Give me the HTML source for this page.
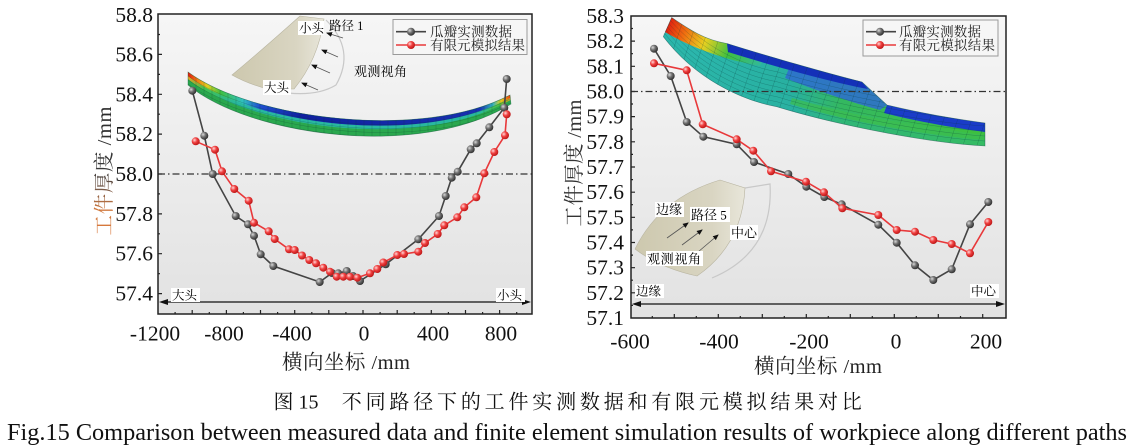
<!DOCTYPE html>
<html><head><meta charset="utf-8"><style>
html,body{margin:0;padding:0;background:#fff;width:1134px;height:447px;overflow:hidden}
svg{display:block}
text{font-family:"Liberation Serif","Noto Serif CJK SC",serif}
</style></head><body>
<svg width="1134" height="447" viewBox="0 0 1134 447" xmlns="http://www.w3.org/2000/svg">
<defs>
<linearGradient id="bg" x1="0" y1="0" x2="0" y2="1"><stop offset="0" stop-color="#f6f6f6"/><stop offset="0.5" stop-color="#ececec"/><stop offset="1" stop-color="#e2e2e2"/></linearGradient>
<radialGradient id="gb" cx="0.35" cy="0.35" r="0.7"><stop offset="0" stop-color="#d8d8d8"/><stop offset="0.45" stop-color="#707070"/><stop offset="1" stop-color="#2a2a2a"/></radialGradient>
<radialGradient id="gr" cx="0.35" cy="0.35" r="0.7"><stop offset="0" stop-color="#ffd8d8"/><stop offset="0.45" stop-color="#f04040"/><stop offset="1" stop-color="#b81414"/></radialGradient>
<linearGradient id="lt" gradientUnits="userSpaceOnUse" x1="188" y1="0" x2="512" y2="0">
<stop offset="0" stop-color="#e01810"/><stop offset="0.03" stop-color="#f08010"/><stop offset="0.06" stop-color="#e0d020"/><stop offset="0.1" stop-color="#40c040"/><stop offset="0.17" stop-color="#30c0c0"/><stop offset="0.22" stop-color="#2050d0"/><stop offset="0.35" stop-color="#1020a0"/><stop offset="0.9" stop-color="#1830b0"/><stop offset="0.94" stop-color="#30b0c0"/><stop offset="0.965" stop-color="#e0d020"/><stop offset="0.985" stop-color="#f07010"/><stop offset="1" stop-color="#e02010"/></linearGradient>
<linearGradient id="lm" gradientUnits="userSpaceOnUse" x1="188" y1="0" x2="512" y2="0">
<stop offset="0" stop-color="#e8a020"/><stop offset="0.05" stop-color="#40c050"/><stop offset="0.15" stop-color="#28b8a0"/><stop offset="0.9" stop-color="#28b8a0"/><stop offset="0.96" stop-color="#50c040"/><stop offset="1" stop-color="#e0a020"/></linearGradient>
<linearGradient id="rg" gradientUnits="userSpaceOnUse" x1="660" y1="0" x2="990" y2="0">
<stop offset="0" stop-color="#2cb8b0"/><stop offset="0.4" stop-color="#28b0a0"/><stop offset="0.55" stop-color="#34b860"/><stop offset="1" stop-color="#3cc040"/></linearGradient>
<linearGradient id="rtl" gradientUnits="userSpaceOnUse" x1="668" y1="20" x2="765" y2="62">
<stop offset="0" stop-color="#e01a10"/><stop offset="0.2" stop-color="#f07010"/><stop offset="0.4" stop-color="#e8d020"/><stop offset="0.65" stop-color="#40c040"/><stop offset="1" stop-color="#30b8a0"/></linearGradient>
<linearGradient id="beige" x1="0" y1="0" x2="1" y2="0"><stop offset="0" stop-color="#cdc8ae"/><stop offset="0.7" stop-color="#d9d5c2"/><stop offset="1" stop-color="#e8e6da"/></linearGradient>
<linearGradient id="yt" x1="0" y1="0" x2="1" y2="0"><stop offset="0" stop-color="#d9773a"/><stop offset="0.2" stop-color="#d07a40"/><stop offset="0.36" stop-color="#7a5a48"/><stop offset="0.5" stop-color="#3a3a3a"/><stop offset="1" stop-color="#2a2a2a"/></linearGradient>
<marker id="ah" markerWidth="6" markerHeight="6" refX="5" refY="3" orient="auto" markerUnits="userSpaceOnUse"><path d="M0,0.5 L6,3 L0,5.5 Z" fill="#111"/></marker>
<clipPath id="lsc"><path d="M188,72 C250,118 420,142 510,95 L511,104 C420,160 250,136 188,85 Z"/></clipPath>
<clipPath id="rsc"><path d="M671.7,17.5 C690,30 705,40 727,43.5 C770,57 830,74 862,82 L887,105 C920,113 955,119 985,123 L985,146 C930,143 840,126 776.7,106.7 C740,100 695,78 663.3,36.7 Z"/></clipPath>
</defs>

<!-- ================= LEFT CHART ================= -->
<rect x="158" y="14" width="374" height="300" fill="url(#bg)"/>

<!-- left inset -->
<path d="M326,20 Q356,50 336,85 Q318,96 288,93" fill="none" stroke="#c8c8c8" stroke-width="1.2"/>
<path d="M300,16 L324,19 Q318,60 294,89 L268,89 Q248,84 232,75 Q262,50 300,16 Z" fill="url(#beige)" stroke="#b8b4a0" stroke-width="0.6"/>
<g stroke="#555" stroke-width="0.8" marker-end="url(#ah)">
<line x1="343" y1="38" x2="327" y2="33"/>
<line x1="338" y1="57" x2="322" y2="50"/>
<line x1="330" y1="73" x2="312" y2="65"/>
<line x1="318" y1="90" x2="302" y2="83"/>
</g>
<rect x="298" y="21" width="26" height="14" fill="#fff"/>
<text x="299" y="32.5" font-size="12.5">小头</text>
<text x="329" y="30" font-size="12.5">路径 1</text>
<text x="354" y="76" font-size="13" textLength="53">观测视角</text>
<rect x="263" y="80" width="28" height="15" fill="#fff"/>
<text x="264" y="92" font-size="12.5">大头</text>

<!-- left shell -->
<path d="M188,72 C250,118 420,142 510,95 L511,104 C420,160 250,136 188,85 Z" fill="#2aa84e"/>
<path d="M188,72 C250,118 420,142 510,95 L510.5,100 C420,152 250,128 188,79 Z" fill="url(#lm)"/>
<path d="M188,72 C250,118 420,142 510,95 L510.3,97.8 C420,148 250,124 188,76 Z" fill="url(#lt)"/>
<g clip-path="url(#lsc)" fill="none" stroke="#0c3c30" stroke-width="0.5" stroke-opacity="0.35">
<path d="M188,76 C250,122 420,146 510,99"/>
<path d="M188,80 C250,126 420,150 510,103"/>
<path d="M188,84 C250,130 420,154 510,107"/>
<path d="M188,88 C250,134 420,158 510,111"/>
<path d="M196,60v110M204,60v110M212,60v110M220,60v110M228,60v110M236,60v110M244,60v110M252,60v110M260,60v110M268,60v110M276,60v110M284,60v110M292,60v110M300,60v110M308,60v110M316,60v110M324,60v110M332,60v110M340,60v110M348,60v110M356,60v110M364,60v110M372,60v110M380,60v110M388,60v110M396,60v110M404,60v110M412,60v110M420,60v110M428,60v110M436,60v110M444,60v110M452,60v110M460,60v110M468,60v110M476,60v110M484,60v110M492,60v110M500,60v110"/>
</g>
<path d="M188,72 C250,118 420,142 510,95 L511,104 C420,160 250,136 188,85 Z" fill="none" stroke="#1a5a40" stroke-width="0.6" stroke-opacity="0.6"/>

<!-- ticks left -->
<g stroke="#222" stroke-width="1.2">
<path d="M158,293.6h4M158,253.7h4M158,213.9h4M158,174h4M158,134.1h4M158,94.3h4M158,54.4h4M158,273.7h2M158,233.8h2M158,193.9h2M158,154.1h2M158,114.2h2M158,74.4h2M158,34.5h2"/>
<path d="M175.1,314v-2M192.2,314v-4M209.3,314v-2M226.4,314v-4M243.4,314v-2M260.5,314v-4M277.6,314v-2M294.7,314v-4M311.8,314v-2M328.8,314v-4M345.9,314v-2M363,314v-4M380.1,314v-2M397.2,314v-4M414.2,314v-2M431.3,314v-4M448.4,314v-2M465.5,314v-4M482.6,314v-2M499.6,314v-4M516.7,314v-2"/>
</g>

<line x1="158" y1="174" x2="532" y2="174" stroke="#333" stroke-width="1.2" stroke-dasharray="7 3 1.5 3"/>

<line x1="163" y1="302" x2="527" y2="302" stroke="#111" stroke-width="1.3"/>
<path d="M159,302 L168,299 L168,305 Z M531,302 L522,299 L522,305 Z" fill="#111"/>
<rect x="171" y="288" width="29" height="14" fill="#fff"/>
<text x="172" y="299.5" font-size="12.5">大头</text>
<rect x="496" y="288" width="29" height="14" fill="#fff"/>
<text x="497" y="299.5" font-size="12.5">小头</text>

<polyline fill="none" stroke="#444" stroke-width="1.6" points="192.3,90.7 204.3,135.7 212.7,174 235.7,216 248,224.3 254,235.7 260.7,254.3 273.3,266 319.7,282 332,273 338.3,273.3 346.7,271 353,276 360,281 385.7,264.3 418.3,239.3 439,216 445.7,196 451.7,177.7 457.7,171.7 470.7,149.3 476.7,143.3 489.3,127.3 504.3,107.7 506.7,79"/>
<g fill="url(#gb)">
<circle cx="192.3" cy="90.7" r="4"/><circle cx="204.3" cy="135.7" r="4"/><circle cx="212.7" cy="174" r="4"/><circle cx="235.7" cy="216" r="4"/><circle cx="248" cy="224.3" r="4"/><circle cx="254" cy="235.7" r="4"/><circle cx="260.7" cy="254.3" r="4"/><circle cx="273.3" cy="266" r="4"/><circle cx="319.7" cy="282" r="4"/><circle cx="332" cy="273" r="4"/><circle cx="338.3" cy="273.3" r="4"/><circle cx="346.7" cy="271" r="4"/><circle cx="353" cy="276" r="4"/><circle cx="360" cy="281" r="4"/><circle cx="385.7" cy="264.3" r="4"/><circle cx="418.3" cy="239.3" r="4"/><circle cx="439" cy="216" r="4"/><circle cx="445.7" cy="196" r="4"/><circle cx="451.7" cy="177.7" r="4"/><circle cx="457.7" cy="171.7" r="4"/><circle cx="470.7" cy="149.3" r="4"/><circle cx="476.7" cy="143.3" r="4"/><circle cx="489.3" cy="127.3" r="4"/><circle cx="504.3" cy="107.7" r="4"/><circle cx="506.7" cy="79" r="4"/>
</g>
<polyline fill="none" stroke="#e8383a" stroke-width="1.6" points="195.7,141.3 215,149.7 222,171.3 234.3,189 248.7,200.7 254,222.7 268.7,231.3 274.7,239 289,249.3 294.7,250 302,255.5 309.3,260 316,263.3 323.3,267.7 330,271.7 336.7,276.7 343.3,276.7 350,276.7 357.3,277.7 370,273.3 377.3,269 383.3,262.5 397.3,255 404,254 418.3,251.7 425,243 437.7,234 444.3,225.3 457.3,217.3 464.3,207.3 476.3,197.3 484.3,173.3 494.3,152 505,135.3 506.7,114.3"/>
<g fill="url(#gr)">
<circle cx="195.7" cy="141.3" r="4"/><circle cx="215" cy="149.7" r="4"/><circle cx="222" cy="171.3" r="4"/><circle cx="234.3" cy="189" r="4"/><circle cx="248.7" cy="200.7" r="4"/><circle cx="254" cy="222.7" r="4"/><circle cx="268.7" cy="231.3" r="4"/><circle cx="274.7" cy="239" r="4"/><circle cx="289" cy="249.3" r="4"/><circle cx="294.7" cy="250" r="4"/><circle cx="302" cy="255.5" r="4"/><circle cx="309.3" cy="260" r="4"/><circle cx="316" cy="263.3" r="4"/><circle cx="323.3" cy="267.7" r="4"/><circle cx="330" cy="271.7" r="4"/><circle cx="336.7" cy="276.7" r="4"/><circle cx="343.3" cy="276.7" r="4"/><circle cx="350" cy="276.7" r="4"/><circle cx="357.3" cy="277.7" r="4"/><circle cx="370" cy="273.3" r="4"/><circle cx="377.3" cy="269" r="4"/><circle cx="383.3" cy="262.5" r="4"/><circle cx="397.3" cy="255" r="4"/><circle cx="404" cy="254" r="4"/><circle cx="418.3" cy="251.7" r="4"/><circle cx="425" cy="243" r="4"/><circle cx="437.7" cy="234" r="4"/><circle cx="444.3" cy="225.3" r="4"/><circle cx="457.3" cy="217.3" r="4"/><circle cx="464.3" cy="207.3" r="4"/><circle cx="476.3" cy="197.3" r="4"/><circle cx="484.3" cy="173.3" r="4"/><circle cx="494.3" cy="152" r="4"/><circle cx="505" cy="135.3" r="4"/><circle cx="506.7" cy="114.3" r="4"/>
</g>

<rect x="393" y="19.5" width="134" height="35" fill="#f6f6f6" stroke="#9a9a9a" stroke-width="1"/>
<line x1="396" y1="31.7" x2="426" y2="31.7" stroke="#444" stroke-width="1.6"/>
<circle cx="411" cy="31.7" r="4" fill="url(#gb)"/>
<line x1="396" y1="45" x2="426" y2="45" stroke="#e8383a" stroke-width="1.6"/>
<circle cx="411" cy="45" r="4" fill="url(#gr)"/>
<text x="430" y="36.5" font-size="13.5" textLength="82" fill="#222">瓜瓣实测数据</text>
<text x="430" y="50" font-size="13.5" textLength="95" fill="#222">有限元模拟结果</text>

<rect x="158" y="14" width="374" height="300" fill="none" stroke="#222" stroke-width="1.5"/>

<g font-size="21.5" text-anchor="end" fill="#111">
<text x="153" y="22">58.8</text><text x="153" y="61.5">58.6</text><text x="153" y="101.3">58.4</text><text x="153" y="141.1">58.2</text><text x="153" y="181">58.0</text><text x="153" y="220.9">57.8</text><text x="153" y="260.7">57.6</text><text x="153" y="300.6">57.4</text>
</g>
<g font-size="21.5" text-anchor="middle" fill="#111">
<text x="155" y="340.5">-1200</text><text x="224" y="340.5">-800</text><text x="292" y="340.5">-400</text><text x="364" y="340.5">0</text><text x="433" y="340.5">400</text><text x="501" y="340.5">800</text>
</g>
<text x="346" y="369" font-size="20.5" text-anchor="middle" fill="#222" textLength="128">横向坐标 /mm</text>
<text transform="translate(111,171) rotate(-90)" font-size="20.5" text-anchor="middle" fill="url(#yt)" textLength="129">工件厚度 /mm</text>

<!-- ================= RIGHT CHART ================= -->
<rect x="631" y="16" width="375" height="302" fill="url(#bg)"/>

<path d="M745,188 L770,184 Q774,252 712,278" fill="none" stroke="#c8c8c8" stroke-width="1.2"/>
<path d="M720,180 L745,188 Q742,245 697,276 Q660,268 635,249 Q660,198 720,180 Z" fill="url(#beige)" stroke="#b8b4a0" stroke-width="0.6"/>
<g stroke="#555" stroke-width="0.8" marker-end="url(#ah)">
<line x1="667" y1="238" x2="688" y2="223"/>
<line x1="682" y1="245" x2="702" y2="230"/>
<line x1="698" y1="252" x2="718" y2="235"/>
</g>
<rect x="655" y="202" width="29" height="15" fill="#fff"/>
<text x="656" y="214" font-size="13">边缘</text>
<rect x="690" y="207" width="40" height="15" fill="#fff"/>
<text x="691" y="219.5" font-size="13">路径 5</text>
<rect x="730" y="225" width="28" height="15" fill="#fff"/>
<text x="731" y="237.5" font-size="13">中心</text>
<rect x="646" y="251" width="57" height="15" fill="#fff"/>
<text x="647" y="263.5" font-size="13" textLength="54">观测视角</text>

<!-- right shell -->
<path d="M671.7,17.5 C690,30 705,40 727,43.5 C770,57 830,74 862,82 L887,105 C920,113 955,119 985,123 L985,146 C930,143 840,126 776.7,106.7 C740,100 695,78 663.3,36.7 Z" fill="url(#rg)"/>
<path d="M985,146 C930,143 840,126 776.7,106.7 C740,100 695,78 663.3,36.7 L664,33 C700,68 745,88 780,96 C840,112 930,128 985,135 Z" fill="#2cb4a4" opacity="0.35"/>
<path d="M985,140 C930,136 850,122 790,104 L792,98 C850,115 930,129 985,132 Z" fill="#40c040" opacity="0.6"/>
<path d="M671.7,17.5 C690,30 705,40 727,43.5 L765,56 L760,66 C725,60 690,47 665,32 Z" fill="url(#rtl)"/>
<path d="M790,66 C830,74 850,79 862,82 L887,105 L880,110 C850,102 815,90 785,78 Z" fill="#2e6cd0" opacity="0.85"/>
<path d="M727,43.5 C770,57 830,74 862,82 L868,89 C830,82 770,65 728,52 Z" fill="#1430b8"/>
<path d="M887,105 C920,113 955,119 985,123 L985,132 C955,128 920,122 884,113 Z" fill="#1a3cc8"/>
<g clip-path="url(#rsc)" fill="none" stroke="#0a3a3a" stroke-width="0.5" stroke-opacity="0.35">
<path d="M985,141 C930,138 840,121 776.7,101.7 C740,95 695,73 663.3,31.7"/>
<path d="M985,136 C930,133 840,116 776.7,96.7 C740,90 695,68 663.3,26.7"/>
<path d="M985,131 C930,128 840,111 776.7,91.7 C740,85 695,63 663.3,21.7"/>
<path d="M985,126 C930,123 840,106 776.7,86.7 C740,80 695,58 663.3,16.7"/>
<path d="M985,121 C930,118 840,101 776.7,81.7 C740,75 695,53 663.3,11.7"/>
<path d="M985,116 C930,113 840,96 776.7,76.7 C740,70 695,48 663.3,6.7"/>
<path d="M985,111 C930,108 840,91 776.7,71.7 C740,65 695,43 663.3,1.7"/>
<path d="M690,0 l-54,160M704,0 l-54,160M718,0 l-54,160M732,0 l-54,160M746,0 l-54,160M760,0 l-54,160M774,0 l-54,160M788,0 l-54,160M802,0 l-54,160M816,0 l-54,160M830,0 l-54,160M844,0 l-54,160M858,0 l-54,160M872,0 l-54,160M886,0 l-54,160M900,0 l-54,160M914,0 l-54,160M928,0 l-54,160M942,0 l-54,160M956,0 l-54,160M970,0 l-54,160M984,0 l-54,160M998,0 l-54,160M1012,0 l-54,160M1026,0 l-54,160M1040,0 l-54,160"/>
</g>
<path d="M671.7,17.5 C690,30 705,40 727,43.5 C770,57 830,74 862,82 L887,105 C920,113 955,119 985,123 L985,146 C930,143 840,126 776.7,106.7 C740,100 695,78 663.3,36.7 Z" fill="none" stroke="#1a5050" stroke-width="0.6" stroke-opacity="0.6"/>

<g stroke="#222" stroke-width="1.2">
<path d="M631,292.8h4M631,267.7h4M631,242.5h4M631,217.3h4M631,192.2h4M631,167h4M631,141.8h4M631,116.6h4M631,91.5h4M631,66.3h4M631,41.1h4M631,305.4h2M631,280.2h2M631,255.1h2M631,229.9h2M631,204.7h2M631,179.6h2M631,154.4h2M631,129.2h2M631,104h2M631,78.9h2M631,53.7h2M631,28.5h2"/>
<path d="M652.3,318v-2M674.3,318v-4M696.3,318v-2M718.3,318v-4M740.3,318v-2M762.3,318v-4M784.3,318v-2M806.3,318v-4M828.3,318v-2M850.3,318v-4M872.3,318v-2M894.3,318v-4M916.3,318v-2M938.3,318v-4M960.5,318v-2M982.7,318v-4"/>
</g>

<line x1="631" y1="91.5" x2="1006" y2="91.5" stroke="#333" stroke-width="1.2" stroke-dasharray="7 3 1.5 3"/>

<line x1="636" y1="304" x2="1001" y2="304" stroke="#111" stroke-width="1.3"/>
<path d="M632,304 L641,301 L641,307 Z M1005,304 L996,301 L996,307 Z" fill="#111"/>
<rect x="635" y="284" width="29" height="14" fill="#fff"/>
<text x="636" y="295.5" font-size="12.5">边缘</text>
<rect x="970" y="284" width="29" height="14" fill="#fff"/>
<text x="971" y="295.5" font-size="12.5">中心</text>

<polyline fill="none" stroke="#444" stroke-width="1.6" points="654,48.7 670.7,76 686.7,122 703.3,136.7 736.7,144.3 754,162 788.3,174 806.3,186.7 824.3,197 841.7,204.3 878.3,224.7 896.7,242.7 915,265.3 933.3,280 951.7,269.3 970,224.3 988.3,202"/>
<g fill="url(#gb)">
<circle cx="654" cy="48.7" r="4"/><circle cx="670.7" cy="76" r="4"/><circle cx="686.7" cy="122" r="4"/><circle cx="703.3" cy="136.7" r="4"/><circle cx="736.7" cy="144.3" r="4"/><circle cx="754" cy="162" r="4"/><circle cx="788.3" cy="174" r="4"/><circle cx="806.3" cy="186.7" r="4"/><circle cx="824.3" cy="197" r="4"/><circle cx="841.7" cy="204.3" r="4"/><circle cx="878.3" cy="224.7" r="4"/><circle cx="896.7" cy="242.7" r="4"/><circle cx="915" cy="265.3" r="4"/><circle cx="933.3" cy="280" r="4"/><circle cx="951.7" cy="269.3" r="4"/><circle cx="970" cy="224.3" r="4"/><circle cx="988.3" cy="202" r="4"/>
</g>
<polyline fill="none" stroke="#e8383a" stroke-width="1.6" points="654,63.3 686.7,70.3 702.7,124.3 736.7,139.3 753.3,150.7 771,171.3 806,181.7 824,192.3 842.3,208.3 878.3,215 896.7,230 915,231.7 933.3,240 951.7,244 970,253.3 988.3,222"/>
<g fill="url(#gr)">
<circle cx="654" cy="63.3" r="4"/><circle cx="686.7" cy="70.3" r="4"/><circle cx="702.7" cy="124.3" r="4"/><circle cx="736.7" cy="139.3" r="4"/><circle cx="753.3" cy="150.7" r="4"/><circle cx="771" cy="171.3" r="4"/><circle cx="806" cy="181.7" r="4"/><circle cx="824" cy="192.3" r="4"/><circle cx="842.3" cy="208.3" r="4"/><circle cx="878.3" cy="215" r="4"/><circle cx="896.7" cy="230" r="4"/><circle cx="915" cy="231.7" r="4"/><circle cx="933.3" cy="240" r="4"/><circle cx="951.7" cy="244" r="4"/><circle cx="970" cy="253.3" r="4"/><circle cx="988.3" cy="222" r="4"/>
</g>

<rect x="863" y="20" width="135" height="36" fill="#f6f6f6" stroke="#9a9a9a" stroke-width="1"/>
<line x1="866" y1="31.7" x2="896" y2="31.7" stroke="#444" stroke-width="1.6"/>
<circle cx="880" cy="31.7" r="4" fill="url(#gb)"/>
<line x1="866" y1="45" x2="896" y2="45" stroke="#e8383a" stroke-width="1.6"/>
<circle cx="880" cy="45" r="4" fill="url(#gr)"/>
<text x="899" y="36.5" font-size="13.5" textLength="82" fill="#222">瓜瓣实测数据</text>
<text x="899" y="50" font-size="13.5" textLength="96" fill="#222">有限元模拟结果</text>

<rect x="631" y="16" width="375" height="302" fill="none" stroke="#222" stroke-width="1.5"/>

<g font-size="21.5" text-anchor="end" fill="#111">
<text x="624" y="23">58.3</text><text x="624" y="48.1">58.2</text><text x="624" y="73.3">58.1</text><text x="624" y="98.5">58.0</text><text x="624" y="123.6">57.9</text><text x="624" y="148.8">57.8</text><text x="624" y="174">57.7</text><text x="624" y="199.2">57.6</text><text x="624" y="224.3">57.5</text><text x="624" y="249.5">57.4</text><text x="624" y="274.7">57.3</text><text x="624" y="299.8">57.2</text><text x="624" y="325">57.1</text>
</g>
<g font-size="21.5" text-anchor="middle" fill="#111">
<text x="630" y="348.5">-600</text><text x="719" y="348.5">-400</text><text x="809" y="348.5">-200</text><text x="896" y="348.5">0</text><text x="986" y="348.5">200</text>
</g>
<text x="818" y="373" font-size="20.5" text-anchor="middle" fill="#222" textLength="128">横向坐标 /mm</text>
<text transform="translate(581,163) rotate(-90)" font-size="20.5" text-anchor="middle" fill="#333" textLength="127">工件厚度 /mm</text>

<!-- captions -->
<text x="273.5" y="408.5" font-size="20" fill="#111">图 15</text>
<text x="341.8" y="408.5" font-size="20" fill="#111" textLength="520" lengthAdjust="spacing">不同路径下的工件实测数据和有限元模拟结果对比</text>
<text x="7" y="440" font-size="24" fill="#111" textLength="1120" lengthAdjust="spacingAndGlyphs">Fig.15  Comparison between measured data and finite element simulation results of workpiece along different paths</text>
</svg>
</body></html>
